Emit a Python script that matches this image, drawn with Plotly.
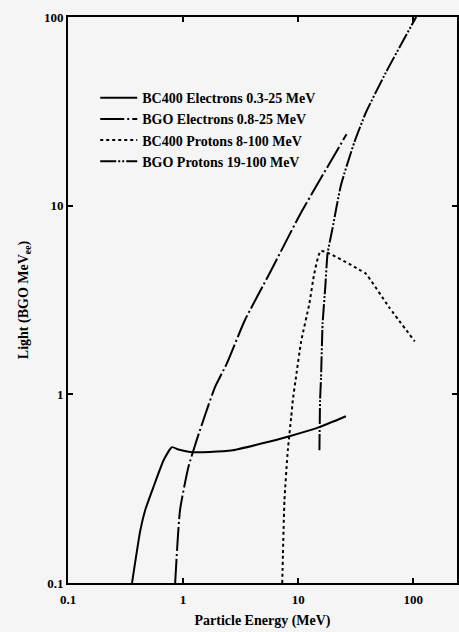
import plotly.graph_objects as go

# BC400 Electrons 0.3-25 MeV
bc400_e_x = [0.36, 0.425, 0.47, 0.55, 0.68, 0.80, 0.91, 1.15, 1.7, 2.7, 4.6, 8.4, 15.3, 26]
bc400_e_y = [0.1, 0.19, 0.245, 0.32, 0.45, 0.525, 0.51, 0.495, 0.495, 0.505, 0.545, 0.60, 0.67, 0.765]

# BGO Electrons 0.8-25 MeV
bgo_e_x = [0.853, 0.94, 1.11, 1.31, 1.6, 1.89, 2.39, 3.44, 5.65, 10.3, 26.3]
bgo_e_y = [0.1, 0.243, 0.41, 0.57, 0.82, 1.09, 1.45, 2.47, 4.38, 8.9, 23.9]

# BC400 Protons 8-100 MeV
bc400_p_x = [7.27, 7.6, 8.13, 8.7, 8.98, 9.6, 10.6, 12.5, 13.8, 15.8, 33.9, 38.7, 61.5, 103]
bc400_p_y = [0.1, 0.274, 0.506, 0.76, 0.93, 1.25, 1.9, 3.02, 4.36, 5.75, 4.58, 4.36, 2.9, 1.91]

# BGO Protons 19-100 MeV
bgo_p_x = [15.3, 15.5, 15.8, 16.3, 17.2, 18.0, 19.9, 23.5, 30.7, 38.7, 57.6, 106]
bgo_p_y = [0.506, 0.93, 1.23, 2.37, 3.7, 5.57, 7.6, 12.8, 21.6, 31.1, 50.6, 100]

names = ["BC400 Electrons 0.3-25 MeV", "BGO Electrons 0.8-25 MeV",
         "BC400 Protons 8-100 MeV", "BGO Protons 19-100 MeV"]

x_ticks = [0.1, 1, 10, 100]
x_ticklabels = ["0.1", "1", "10", "100"]
y_ticks = [0.1, 1, 10, 100]
y_ticklabels = ["0.1", "1", "10", "100"]

font_family = "Liberation Serif"
bg = "#f5f5f5"

fig = go.Figure()
series = [
    (bc400_e_x, bc400_e_y, "solid"),
    (bgo_e_x, bgo_e_y, "24px,3px,2px,3px"),
    (bc400_p_x, bc400_p_y, "dot"),
    (bgo_p_x, bgo_p_y, "16px,2px,2px,2px,2px,2px"),
]
for (xs, ys, dash), nm in zip(series, names):
    fig.add_trace(go.Scatter(x=xs, y=ys, mode="lines", name=nm,
                             line=dict(color="black", width=2, dash=dash, shape="spline", smoothing=0.5)))

axis_common = dict(type="log", showgrid=False, zeroline=False, showline=True,
                   linecolor="black", linewidth=2, mirror="ticks", ticks="inside",
                   ticklen=5, tickwidth=2, tickcolor="black",
                   tickfont=dict(family=font_family, size=13, color="black", weight="bold"))

fig.update_xaxes(range=[-1, 2.38], tickvals=x_ticks, ticktext=x_ticklabels,
                 title=dict(text="Particle Energy (MeV)", standoff=10,
                            font=dict(family=font_family, size=14, color="black", weight="bold")),
                 ticklabelstandoff=3, **axis_common)
fig.update_yaxes(range=[-1, 2], tickvals=y_ticks, ticktext=y_ticklabels,
                 title=dict(text="Light (BGO MeV<sub>ee</sub>)", standoff=12,
                            font=dict(family=font_family, size=14, color="black", weight="bold")),
                 **axis_common)

fig.update_layout(
    width=459, height=632,
    margin=dict(l=68, r=0, t=17, b=49),
    paper_bgcolor=bg, plot_bgcolor=bg,
    font=dict(family=font_family, size=13, color="black", weight="bold"),
    showlegend=True,
    legend=dict(x=0.07, y=0.885, xanchor="left", yanchor="top",
                bgcolor="rgba(0,0,0,0)",
                font=dict(family=font_family, size=14, color="black", weight="bold"),
                tracegroupgap=0, itemwidth=37),
)

post = ("document.body.style.margin='0';document.body.style.overflow='hidden';"
        "var gd=document.getElementById('{plot_id}');"
        "Plotly.relayout(gd,{width:459,height:632});")
fig.write_html("out.html", post_script=post,
               config={"responsive": False, "displayModeBar": False})
